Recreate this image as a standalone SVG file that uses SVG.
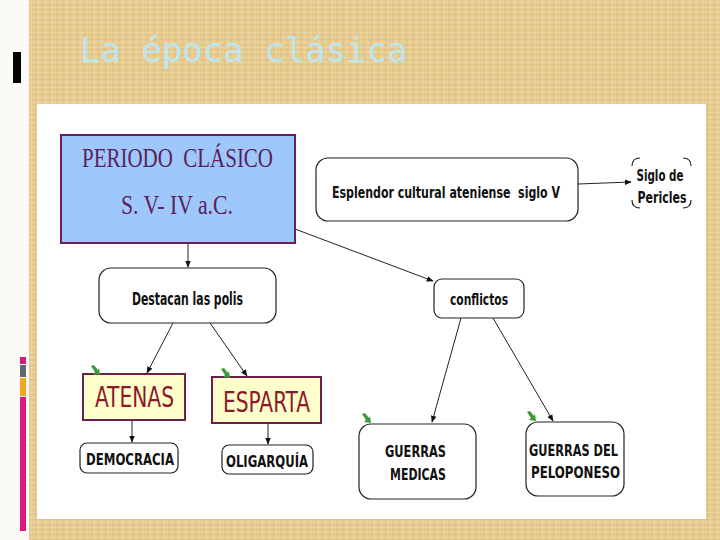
<svg xmlns="http://www.w3.org/2000/svg" width="720" height="540" viewBox="0 0 720 540">
<defs>
<pattern id="linen" width="7" height="5" patternUnits="userSpaceOnUse">
<rect width="7" height="5" fill="#e6cb90"/>
<rect x="0" y="0" width="1" height="5" fill="#d7b776" opacity="0.45"/>
<rect x="3" y="0" width="1" height="5" fill="#f1dcaa" opacity="0.5"/>
<rect x="0" y="2" width="7" height="1" fill="#f2dfb0" opacity="0.4"/>
<rect x="0" y="4" width="7" height="1" fill="#d9b977" opacity="0.35"/>
</pattern>
<marker id="ah" viewBox="0 0 10 10" refX="9" refY="5" markerWidth="7" markerHeight="7" orient="auto" markerUnits="userSpaceOnUse">
<path d="M0,1 L10,5 L0,9 Z" fill="#111"/>
</marker>
<path id="gicon" d="M0,0 L3,-1 L7,4 L8,2 L9,9 L2,8 L4,6 Z" fill="#3c9a3a"/>
</defs>
<style>
.lbl{font-family:"DejaVu Sans Condensed","Liberation Sans",sans-serif;font-weight:bold;fill:#111;}
.box{fill:#fff;stroke:#222;stroke-width:1.2;}
.poli{fill:#ffffcc;stroke:#6b1f4a;stroke-width:2;}
.politxt{font-family:"Liberation Sans Narrow","DejaVu Sans Condensed",sans-serif;fill:#8b1a2a;font-size:28px;}
.con{stroke:#222;stroke-width:1;fill:none;marker-end:url(#ah);}
</style>
<rect width="720" height="540" fill="#fbfaf6"/>
<rect x="29" y="0" width="691" height="540" fill="url(#linen)"/>
<rect x="13" y="52" width="8" height="31" fill="#000"/>
<rect x="20" y="357" width="6" height="7" fill="#d81b7a"/>
<rect x="20" y="365" width="6" height="12" fill="#5f6a70"/>
<rect x="20" y="378" width="6" height="18" fill="#f0a81e"/>
<rect x="20" y="397" width="6" height="134" fill="#d81b7a"/>
<text x="80" y="62" font-family="'DejaVu Sans Mono',monospace" font-size="34" fill="#bde6ee">La época clásica</text>
<rect x="37" y="104" width="669" height="415" fill="#ffffff"/>

<g id="connectors">
<line class="con" x1="188" y1="243" x2="188" y2="267"/>
<line class="con" x1="295" y1="229" x2="433" y2="281"/>
<line class="con" x1="578" y1="184" x2="631" y2="182"/>
<line class="con" x1="173" y1="323" x2="147" y2="373"/>
<line class="con" x1="210" y1="323" x2="247" y2="376"/>
<line class="con" x1="132" y1="420" x2="132" y2="442"/>
<line class="con" x1="268" y1="423" x2="268" y2="444"/>
<line class="con" x1="461" y1="318" x2="432" y2="422"/>
<line class="con" x1="493" y1="318" x2="553" y2="421"/>
</g>

<g id="periodo">
<rect x="61" y="135" width="234" height="108" fill="#9ec8fb" stroke="#6b1f5a" stroke-width="2"/>
<text x="82" y="167" font-family="'Liberation Serif',serif" font-size="27" fill="#5a1f5c" textLength="191" lengthAdjust="spacingAndGlyphs" xml:space="preserve">PERIODO  CLÁSICO</text>
<text x="121" y="214" font-family="'Liberation Serif',serif" font-size="27" fill="#5a1f5c" textLength="112" lengthAdjust="spacingAndGlyphs">S. V- IV a.C.</text>
</g>

<g id="esplendor">
<rect class="box" x="316" y="158" width="262" height="63" rx="12"/>
<text class="lbl" x="332" y="198" font-size="15.5" textLength="228" lengthAdjust="spacingAndGlyphs" xml:space="preserve">Esplendor cultural ateniense  siglo V</text>
</g>

<g id="pericles">
<path d="M632,166 Q632,158 640,158 M683,158 Q691,158 691,166 M691,200 Q691,208 683,208 M640,208 Q632,208 632,200" fill="none" stroke="#222" stroke-width="1.2"/>
<text class="lbl" x="660" y="181" font-size="15.5" text-anchor="middle" textLength="47" lengthAdjust="spacingAndGlyphs">Siglo de</text>
<text class="lbl" x="662" y="203" font-size="15.5" text-anchor="middle" textLength="49" lengthAdjust="spacingAndGlyphs">Pericles</text>
</g>

<g id="destacan">
<rect class="box" x="99" y="268" width="177" height="55" rx="12"/>
<text class="lbl" x="132" y="305" font-size="17" textLength="111" lengthAdjust="spacingAndGlyphs">Destacan las polis</text>
</g>

<g id="conflictos">
<rect class="box" x="434" y="279" width="90" height="39" rx="8"/>
<text class="lbl" x="450" y="305" font-size="16" textLength="58" lengthAdjust="spacingAndGlyphs">conflictos</text>
</g>

<g id="atenas">
<rect class="poli" x="83" y="374" width="102" height="46"/>
<text class="politxt" x="95" y="407" textLength="79" lengthAdjust="spacingAndGlyphs">ATENAS</text>
<use href="#gicon" x="91" y="366"/>
</g>

<g id="esparta">
<rect class="poli" x="212" y="377" width="109" height="46"/>
<text class="politxt" x="223" y="412" textLength="87" lengthAdjust="spacingAndGlyphs">ESPARTA</text>
<use href="#gicon" x="221" y="369"/>
</g>

<g id="democracia">
<rect class="box" x="80" y="443" width="98" height="30" rx="7"/>
<text class="lbl" x="86" y="465" font-size="16.5" textLength="88" lengthAdjust="spacingAndGlyphs">DEMOCRACIA</text>
</g>

<g id="oligarquia">
<rect class="box" x="222" y="445" width="91" height="29" rx="7"/>
<text class="lbl" x="226" y="467" font-size="16.5" textLength="82" lengthAdjust="spacingAndGlyphs">OLIGARQUÍA</text>
</g>

<g id="medicas">
<rect class="box" x="359" y="424" width="117" height="75" rx="12"/>
<text class="lbl" x="385" y="457" font-size="16.5" textLength="61" lengthAdjust="spacingAndGlyphs">GUERRAS</text>
<text class="lbl" x="390" y="480" font-size="16.5" textLength="56" lengthAdjust="spacingAndGlyphs">MEDICAS</text>
<use href="#gicon" x="362" y="414"/>
</g>

<g id="peloponeso">
<rect class="box" x="526" y="422" width="98" height="74" rx="12"/>
<text class="lbl" x="529" y="456" font-size="16.5" textLength="89" lengthAdjust="spacingAndGlyphs">GUERRAS DEL</text>
<text class="lbl" x="531" y="478" font-size="16.5" textLength="89" lengthAdjust="spacingAndGlyphs">PELOPONESO</text>
<use href="#gicon" x="527" y="412"/>
</g>
</svg>
